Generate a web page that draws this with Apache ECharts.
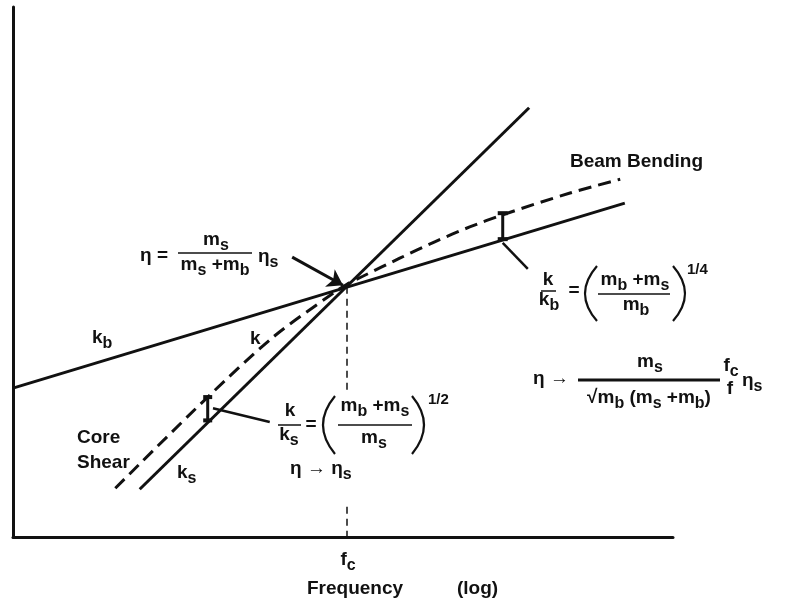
<!DOCTYPE html>
<html>
<head>
<meta charset="utf-8">
<script src="https://cdn.jsdelivr.net/npm/echarts@6/dist/echarts.min.js"></script>
<style>
html, body { margin: 0; padding: 0; background: #fff; }
#main { width: 785px; height: 607px; }
</style>
</head>
<body>
<div id="main"></div>
<script>
// axes are log frequency / log stiffness, both in arbitrary 0-100 units
var kbFreq = [0, 92.7];            // beam bending asymptote
var kbStiff = [28.1, 63.0];
var ksFreq = [19.2, 78.2];         // core shear asymptote
var ksStiff = [9.0, 81.0];
var kFreq = [15.5, 29.5, 39.4, 48.5, 50.6, 53.0, 58.6, 63.9, 69.2, 74.2, 84.4, 92.0];   // combined k (dashed)
var kStiff = [9.2, 26.4, 37.7, 46.0, 47.7, 49.2, 52.6, 55.7, 58.5, 60.8, 64.9, 67.5];
var fc = 50.6;

// ratio markers and leader lines (data units)
var barLow = [[29.5, 26.4], [29.5, 22.0]];
var barHigh = [[74.2, 61.1], [74.2, 56.2]];
var leaderLow = [[30.3, 24.3], [38.9, 21.7]];
var leaderHigh = [[74.2, 55.5], [78.0, 50.6]];
var etaArrow = [[42.3, 52.8], [50.0, 47.5]];
var fcDashTop = [[fc, 47.2], [fc, 27.2]];
var fcDashBottom = [[fc, 5.7], [fc, 0]];

var INK = '#111';
var FONT = '"Liberation Sans", Arial, sans-serif';
var BASE = 19, SUB = 16;

function zip(a, b) {
    var out = [];
    for (var i = 0; i < a.length; i++) out.push([a[i], b[i]]);
    return out;
}

var ctx = document.createElement('canvas').getContext('2d');
function textWidth(txt, size) {
    ctx.font = 'bold ' + size + 'px ' + FONT;
    return ctx.measureText(txt).width;
}

var els = [];

function piece(txt, x, y, size) {
    els.push({
        type: 'text', x: x, y: y, silent: true,
        style: {
            text: txt, fill: INK, fontSize: size, fontWeight: 'bold', fontFamily: FONT,
            align: 'left', verticalAlign: 'middle'
        }
    });
}

// parts: [text, kind] kind = undefined (normal) | 's' (subscript)
function run(parts, x, y, align) {
    var items = parts.map(function (p) {
        var sub = p[1] === 's';
        var size = sub ? SUB : BASE;
        return {t: p[0], size: size, dy: sub ? 6 : 0, w: textWidth(p[0], size)};
    });
    var total = 0;
    items.forEach(function (it) { total += it.w; });
    var cx = align === 'center' ? x - total / 2 : x;
    items.forEach(function (it) {
        piece(it.t, cx, y + it.dy, it.size);
        cx += it.w;
    });
}

function bar(x1, x2, y, lw) {
    els.push({
        type: 'line', silent: true,
        shape: {x1: x1, y1: y, x2: x2, y2: y},
        style: {stroke: INK, lineWidth: lw || 1.5}
    });
}

// big bracket, dir -1 = "(" , 1 = ")"
function paren(x, y1, y2, dir) {
    els.push({
        type: 'bezierCurve', silent: true,
        shape: {x1: x, y1: y1, x2: x, y2: y2, cpx1: x + dir * 24, cpy1: (y1 + y2) / 2},
        style: {stroke: INK, lineWidth: 2.2, fill: null}
    });
}

// eta = ms/(ms+mb) eta_s
run([['η =']], 140, 256);
run([['m'], ['s', 's']], 216, 240, 'center');
bar(178, 252, 253);
run([['m'], ['s', 's'], [' +m'], ['b', 's']], 215, 265, 'center');
run([['η'], ['s', 's']], 258, 257);

run([['Beam Bending']], 570, 162);

// k/kb
run([['k']], 548, 280, 'center');
bar(541, 556, 291);
run([['k'], ['b', 's']], 549, 300, 'center');
run([['=']], 574, 291, 'center');
paren(597, 266, 321, -1);
paren(673, 266, 321, 1);
run([['m'], ['b', 's'], [' +m'], ['s', 's']], 635, 280, 'center');
bar(598, 670, 294);
run([['m'], ['b', 's']], 636, 305, 'center');
piece('1/4', 687, 270, 15);

// k/ks
run([['k']], 290, 411, 'center');
bar(278, 301, 425);
run([['k'], ['s', 's']], 289, 435, 'center');
run([['=']], 311, 425, 'center');
paren(335, 396, 454, -1);
paren(412, 396, 454, 1);
run([['m'], ['b', 's'], [' +m'], ['s', 's']], 375, 406, 'center');
bar(338, 412, 425);
run([['m'], ['s', 's']], 374, 438, 'center');
piece('1/2', 428, 400, 15);
run([['η → η'], ['s', 's']], 290, 469);

// eta high frequency limit
run([['η →']], 533, 379);
run([['m'], ['s', 's']], 650, 362, 'center');
bar(578, 720, 380, 3);
run([['√m'], ['b', 's'], [' (m'], ['s', 's'], [' +m'], ['b', 's'], [')']], 649, 398, 'center');
run([['f'], ['c', 's']], 731, 366, 'center');
run([['f']], 730, 389, 'center');
run([['η'], ['s', 's']], 742, 381);

// curve labels
run([['k'], ['b', 's']], 92, 338);
run([['k']], 250, 339);
run([['Core']], 77, 438);
run([['Shear']], 77, 463);
run([['k'], ['s', 's']], 177, 473);
run([['f'], ['c', 's']], 348, 560, 'center');
run([['Frequency']], 307, 589);
run([['(log)']], 457, 589);

var solid = {color: INK, width: 3};

var chart = echarts.init(document.getElementById('main'));
chart.setOption({
    animation: false,
    backgroundColor: '#fff',
    grid: {left: 13, right: 112, top: 7, bottom: 70},
    xAxis: {
        type: 'value', min: 0, max: 100,
        axisLine: {show: true, lineStyle: {color: INK, width: 3}},
        axisTick: {show: false}, axisLabel: {show: false}, splitLine: {show: false}
    },
    yAxis: {
        type: 'value', min: 0, max: 100,
        axisLine: {show: true, lineStyle: {color: INK, width: 3}},
        axisTick: {show: false}, axisLabel: {show: false}, splitLine: {show: false}
    },
    series: [
        {type: 'line', data: zip(kbFreq, kbStiff), symbol: 'none', lineStyle: solid},
        {type: 'line', data: zip(ksFreq, ksStiff), symbol: 'none', lineStyle: solid},
        {
            type: 'line', data: zip(kFreq, kStiff), symbol: 'none', smooth: 0.3,
            lineStyle: {color: INK, width: 3, type: [13, 7]}
        },
        {
            type: 'line', data: barLow, symbol: 'rect', symbolSize: [9, 4],
            itemStyle: {color: INK}, lineStyle: solid
        },
        {
            type: 'line', data: barHigh, symbol: 'rect', symbolSize: [10, 4],
            itemStyle: {color: INK}, lineStyle: solid
        },
        {
            type: 'lines', coordinateSystem: 'cartesian2d', symbol: 'none',
            lineStyle: {color: INK, width: 2.5, opacity: 1},
            data: [{coords: leaderLow}, {coords: leaderHigh}]
        },
        {
            type: 'lines', coordinateSystem: 'cartesian2d',
            symbol: ['none', 'arrow'], symbolSize: 15,
            lineStyle: {color: INK, width: 3, opacity: 1},
            data: [{coords: etaArrow}]
        },
        {
            type: 'lines', coordinateSystem: 'cartesian2d', symbol: 'none',
            lineStyle: {color: INK, width: 1.5, type: [7, 5], opacity: 1},
            data: [{coords: fcDashTop}, {coords: fcDashBottom}]
        }
    ],
    graphic: els
});
</script>
</body>
</html>
